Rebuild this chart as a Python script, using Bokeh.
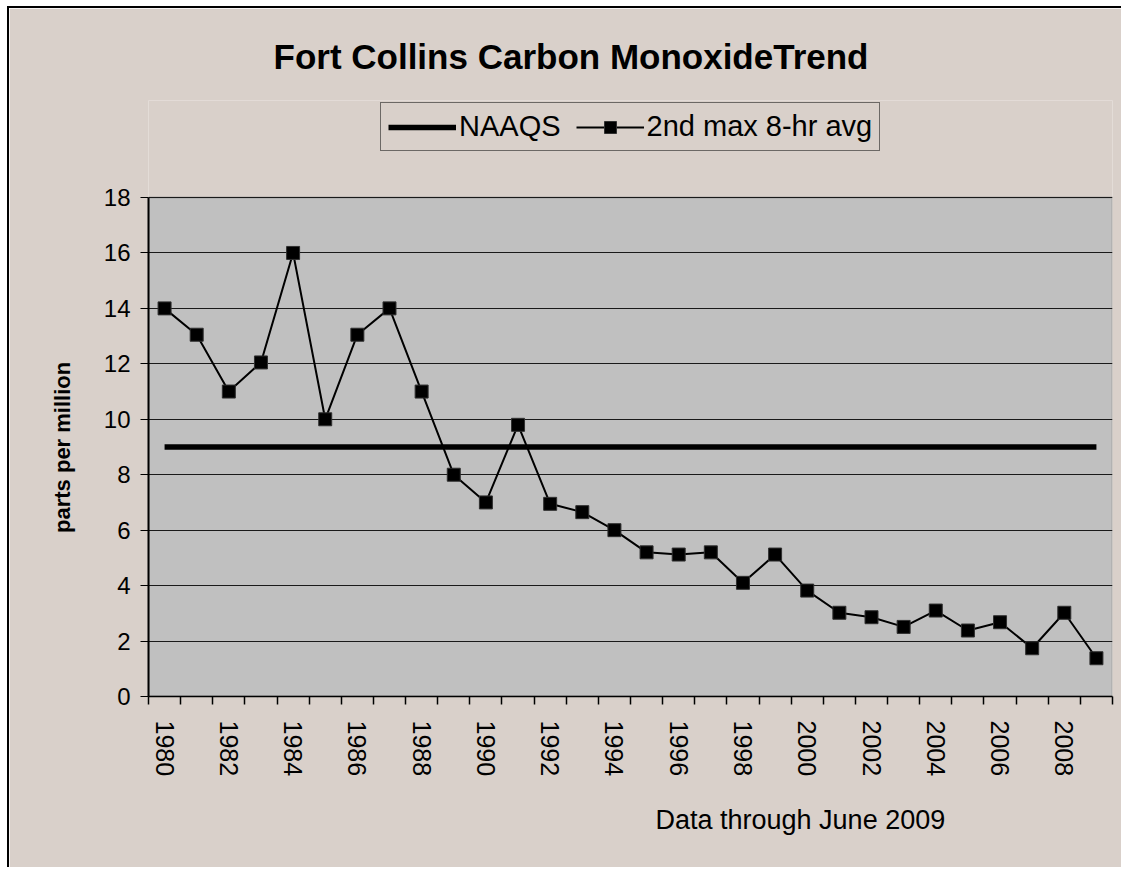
import math
from bokeh.plotting import figure
from bokeh.models import Range1d, FixedTicker, Legend, LegendItem, Title, BoxAnnotation
from bokeh.embed import file_html
from bokeh.resources import INLINE

# ---------------- data ----------------
years = [1980, 1981, 1982, 1983, 1984, 1985, 1986, 1987, 1988, 1989,
         1990, 1991, 1992, 1993, 1994, 1995, 1996, 1997, 1998, 1999,
         2000, 2001, 2002, 2003, 2004, 2005, 2006, 2007, 2008, 2009]
second_max_8hr = [14.0, 13.05, 11.0, 12.05, 16.0, 10.0, 13.05, 14.0, 11.0, 8.0,
                  7.0, 9.8, 6.95, 6.65, 6.0, 5.2, 5.12, 5.2, 4.1, 5.12,
                  3.82, 3.02, 2.86, 2.51, 3.1, 2.38, 2.68, 1.74, 3.02, 1.38]
naaqs = [9, 9, 9, 9, 9, 9, 9, 9, 9, 9,
         9, 9, 9, 9, 9, 9, 9, 9, 9, 9,
         9, 9, 9, 9, 9, 9, 9, 9, 9, 9]
y_ticks = [0, 2, 4, 6, 8, 10, 12, 14, 16, 18]
x_label_years = [1980, 1982, 1984, 1986, 1988, 1990, 1992, 1994, 1996, 1998,
                 2000, 2002, 2004, 2006, 2008]
title_text = "Fort Collins Carbon MonoxideTrend"
footnote_text = "Data through June 2009"
y_label = "parts per million"

FONT = "Liberation Sans"
BEIGE = "#D9D0CA"
PLOT_GREY = "#C0C0C0"

# ---------------- layout ----------------
W, H = 1114, 861
FRAME_L = 139            # left edge of plot area
PLOT_TOP = 189           # top of the grey plot area (value 18)
PLOT_BOTTOM = 688        # value 0
FRAME_W = 964
TOP_PANEL = 92           # title panel height; frame extends up to here
FRAME_H = PLOT_BOTTOM - TOP_PANEL
PLOT_H = PLOT_BOTTOM - PLOT_TOP

X0, X1 = years[0] - 0.5, years[-1] + 0.5
Y0, Y_MAX = 0, 18
Y1_VIEW = Y_MAX * FRAME_H / PLOT_H   # room above the plot area for the legend

p = figure(width=W, height=H, output_backend="svg", toolbar_location=None,
           title=None,
           x_range=Range1d(X0, X1), y_range=Range1d(Y0, Y1_VIEW),
           min_border_left=FRAME_L, min_border_top=TOP_PANEL,
           min_border_right=W - FRAME_L - FRAME_W,
           min_border_bottom=H - PLOT_BOTTOM,
           background_fill_color=BEIGE, border_fill_color=BEIGE)
p.styles = {"margin-left": "7px", "margin-top": "6px",
            "border-left": "2px solid black", "border-top": "2px solid black"}
p.outline_line_color = None

# grey plot area
p.add_layout(BoxAnnotation(left=X0, right=X1, bottom=Y0, top=Y_MAX,
                           fill_color=PLOT_GREY, fill_alpha=1.0,
                           line_color="#808080", line_width=2.5,
                           level="image", editable=False))

# grid
p.xgrid.grid_line_color = None
p.ygrid.ticker = FixedTicker(ticks=y_ticks)
p.ygrid.grid_line_color = "#1a1a1a"
p.ygrid.grid_line_width = 1

# y axis (label padded with no-break spaces so it is centred on the 0-18 span)
p.yaxis.ticker = FixedTicker(ticks=y_ticks)
p.yaxis.bounds = (Y0, Y_MAX)
p.yaxis.axis_line_color = "black"
p.yaxis.axis_line_width = 2
p.yaxis.major_tick_line_color = "black"
p.yaxis.major_tick_out = 8
p.yaxis.major_tick_in = 0
p.yaxis.minor_tick_line_color = None
p.yaxis.major_label_text_font = FONT
p.yaxis.major_label_text_font_size = "24px"
p.yaxis.major_label_text_color = "black"
p.yaxis.major_label_standoff = 10
p.yaxis.axis_label = y_label + "\u00a0" * 16
p.yaxis.axis_label_text_font = FONT
p.yaxis.axis_label_text_font_size = "22px"
p.yaxis.axis_label_text_font_style = "bold"
p.yaxis.axis_label_text_color = "black"
p.yaxis.axis_label_standoff = 26

# x axis
boundaries = [y - 0.5 for y in years] + [years[-1] + 0.5]
p.xaxis.ticker = FixedTicker(ticks=x_label_years, minor_ticks=boundaries)
p.xaxis.axis_line_color = "black"
p.xaxis.axis_line_width = 1.5
p.xaxis.major_tick_line_color = None
p.xaxis.major_tick_out = 8
p.xaxis.major_tick_in = 0
p.xaxis.minor_tick_line_color = "black"
p.xaxis.minor_tick_line_width = 1.5
p.xaxis.minor_tick_out = 8
p.xaxis.minor_tick_in = 0
p.xaxis.major_label_orientation = -math.pi / 2
p.xaxis.major_label_text_font = FONT
p.xaxis.major_label_text_font_size = "25px"
p.xaxis.major_label_text_color = "black"
p.xaxis.major_label_standoff = 16

# series
r_naaqs = p.line(years, naaqs, line_color="black", line_width=5.5)
r_line = p.line(years, second_max_8hr, line_color="black", line_width=2)
r_pts = p.scatter(years, second_max_8hr, marker="square", size=13,
                  fill_color="black", line_color="#303030", line_width=1)

legend = Legend(items=[LegendItem(label="NAAQS", renderers=[r_naaqs]),
                       LegendItem(label="2nd max 8-hr avg", renderers=[r_line, r_pts])],
                orientation="horizontal",
                location=(232, PLOT_BOTTOM - 143),
                border_line_color="black", border_line_width=1,
                background_fill_alpha=0,
                label_text_font=FONT, label_text_font_size="29px",
                label_text_color="black",
                glyph_width=68, glyph_height=30, label_standoff=3,
                spacing=15, padding=7, margin=0)
p.add_layout(legend)

p.add_layout(Title(text=title_text, align="left", offset=125,
                   text_font=FONT, text_font_style="bold",
                   text_font_size="35px", text_color="black",
                   vertical_align="bottom", standoff=50), "above")

p.add_layout(Title(text=footnote_text, align="left", offset=507,
                   text_font=FONT, text_font_style="normal",
                   text_font_size="27px", text_color="black",
                   vertical_align="bottom", standoff=46), "below")

open("out.html", "w").write(file_html(p, INLINE))
